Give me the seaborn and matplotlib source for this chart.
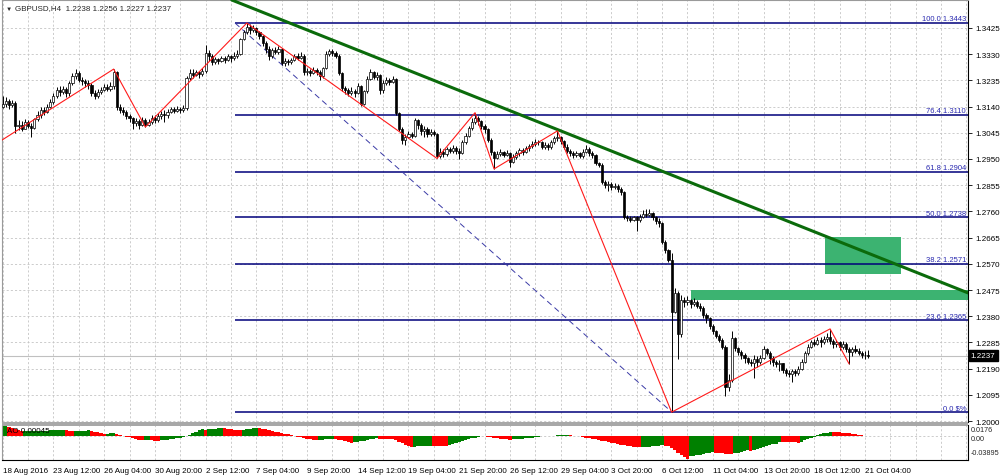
import numpy as np
import pandas as pd
import matplotlib
matplotlib.use('Agg')
import matplotlib.pyplot as plt
import matplotlib.transforms as mtransforms
from matplotlib.patches import Rectangle
import seaborn as sns

# --- data (18 Aug - 21 Oct 2016) ---
first_open = 1.3140
closes = [
    1.3150, 1.3162, 1.3145, 1.3152, 1.3068, 1.3075, 1.3060, 1.3085, 1.3070, 1.3062,
    1.3095, 1.3110, 1.3128, 1.3120, 1.3140, 1.3155, 1.3178, 1.3200, 1.3192, 1.3205,
    1.3190, 1.3225, 1.3250, 1.3262, 1.3238, 1.3232, 1.3226, 1.3218, 1.3188, 1.3178,
    1.3192, 1.3200, 1.3212, 1.3205, 1.3216, 1.3265, 1.3138, 1.3128, 1.3120, 1.3105,
    1.3098, 1.3080, 1.3088, 1.3075, 1.3092, 1.3072, 1.3085, 1.3098, 1.3090, 1.3105,
    1.3112, 1.3108, 1.3120, 1.3130, 1.3125, 1.3132, 1.3128, 1.3135, 1.3245, 1.3262,
    1.3255, 1.3265, 1.3260, 1.3268, 1.3335, 1.3322, 1.3300, 1.3312, 1.3305, 1.3318,
    1.3310, 1.3322, 1.3315, 1.3325, 1.3330, 1.3385, 1.3412, 1.3428, 1.3418, 1.3425,
    1.3410, 1.3395, 1.3370, 1.3350, 1.3322, 1.3345, 1.3338, 1.3350, 1.3298, 1.3305,
    1.3300, 1.3310, 1.3322, 1.3318, 1.3325, 1.3265, 1.3270, 1.3262, 1.3272, 1.3265,
    1.3250, 1.3280, 1.3330, 1.3342, 1.3335, 1.3325, 1.3262, 1.3208, 1.3200, 1.3190,
    1.3198, 1.3188, 1.3215, 1.3150, 1.3195, 1.3240, 1.3265, 1.3248, 1.3255, 1.3200,
    1.3225, 1.3238, 1.3230, 1.3240, 1.3115, 1.3060, 1.3018, 1.3030, 1.3040, 1.3035,
    1.3090, 1.3075, 1.3050, 1.3060, 1.3040, 1.3048, 1.3042, 1.2960, 1.2975, 1.2968,
    1.2985, 1.2978, 1.2990, 1.2980, 1.2972, 1.3010, 1.3035, 1.3062, 1.3085, 1.3100,
    1.3088, 1.3070, 1.3060, 1.3020, 1.2975, 1.2955, 1.2968, 1.2975, 1.2965, 1.2972,
    1.2940, 1.2958, 1.2970, 1.2982, 1.2975, 1.2990, 1.2998, 1.3005, 1.3012, 1.3010,
    1.2995, 1.3002, 1.2992, 1.3010, 1.3025, 1.3030, 1.3015, 1.2995, 1.2980, 1.2972,
    1.2965, 1.2970, 1.2962, 1.2975, 1.2985, 1.2972, 1.2965, 1.2935, 1.2930, 1.2868,
    1.2855, 1.2860, 1.2848, 1.2852, 1.2840, 1.2830, 1.2740, 1.2735, 1.2730, 1.2738,
    1.2728, 1.2740, 1.2752, 1.2748, 1.2755, 1.2738, 1.2725, 1.2718, 1.2650, 1.2620,
    1.2585, 1.2395, 1.2465, 1.2315, 1.2440, 1.2430, 1.2438, 1.2425, 1.2432, 1.2418,
    1.2410, 1.2385, 1.2372, 1.2345, 1.2325, 1.2310, 1.2295, 1.2270, 1.2125, 1.2150,
    1.2300, 1.2265, 1.2250, 1.2240, 1.2228, 1.2215, 1.2210, 1.2225, 1.2215, 1.2230,
    1.2260, 1.2248, 1.2230, 1.2215, 1.2205, 1.2210, 1.2185, 1.2175, 1.2170, 1.2180,
    1.2175, 1.2190, 1.2215, 1.2245, 1.2270, 1.2285, 1.2280, 1.2292, 1.2285, 1.2298,
    1.2305, 1.2290, 1.2280, 1.2285, 1.2270, 1.2278, 1.2262, 1.2250, 1.2262, 1.2255,
    1.2248, 1.2240, 1.2238, 1.2237,
]
highs = [
    1.3178, 1.3175, 1.3168, 1.3165, 1.3160, 1.3090, 1.3088, 1.3095, 1.3092, 1.3080,
    1.3100, 1.3125, 1.3140, 1.3138, 1.3150, 1.3168, 1.3190, 1.3210, 1.3215, 1.3215,
    1.3210, 1.3232, 1.3262, 1.3278, 1.3268, 1.3248, 1.3240, 1.3235, 1.3225, 1.3200,
    1.3205, 1.3212, 1.3222, 1.3222, 1.3228, 1.3276, 1.3268, 1.3148, 1.3140, 1.3128,
    1.3112, 1.3104, 1.3100, 1.3095, 1.3102, 1.3098, 1.3095, 1.3108, 1.3110, 1.3118,
    1.3125, 1.3128, 1.3132, 1.3140, 1.3138, 1.3142, 1.3140, 1.3145, 1.3252, 1.3275,
    1.3276, 1.3272, 1.3270, 1.3280, 1.3365, 1.3345, 1.3330, 1.3320, 1.3318, 1.3325,
    1.3322, 1.3330, 1.3328, 1.3338, 1.3345, 1.3390, 1.3418, 1.3443, 1.3438, 1.3435,
    1.3430, 1.3415, 1.3400, 1.3378, 1.3358, 1.3352, 1.3355, 1.3360, 1.3352, 1.3315,
    1.3312, 1.3318, 1.3330, 1.3335, 1.3338, 1.3330, 1.3280, 1.3278, 1.3282, 1.3280,
    1.3272, 1.3285, 1.3340, 1.3350, 1.3348, 1.3340, 1.3330, 1.3265, 1.3215, 1.3208,
    1.3212, 1.3205, 1.3225, 1.3220, 1.3200, 1.3250, 1.3276, 1.3270, 1.3265, 1.3258,
    1.3235, 1.3248, 1.3245, 1.3250, 1.3242, 1.3120, 1.3065, 1.3040, 1.3050, 1.3048,
    1.3098, 1.3095, 1.3080, 1.3070, 1.3065, 1.3058, 1.3055, 1.3045, 1.2990, 1.2985,
    1.2992, 1.2995, 1.3000, 1.2998, 1.2990, 1.3018, 1.3045, 1.3070, 1.3098, 1.3118,
    1.3105, 1.3092, 1.3078, 1.3062, 1.3025, 1.2980, 1.2980, 1.2985, 1.2980, 1.2982,
    1.2975, 1.2968, 1.2978, 1.2990, 1.2990, 1.2998, 1.3005, 1.3015, 1.3022, 1.3020,
    1.3015, 1.3010, 1.3008, 1.3018, 1.3035, 1.3052, 1.3035, 1.3020, 1.3005, 1.2985,
    1.2978, 1.2978, 1.2975, 1.2985, 1.3000, 1.2995, 1.2980, 1.2968, 1.2940, 1.2935,
    1.2875, 1.2870, 1.2865, 1.2862, 1.2858, 1.2848, 1.2835, 1.2748, 1.2742, 1.2745,
    1.2742, 1.2750, 1.2765, 1.2770, 1.2768, 1.2758, 1.2745, 1.2735, 1.2722, 1.2655,
    1.2625, 1.2610, 1.2482, 1.2470, 1.2458, 1.2450, 1.2455, 1.2442, 1.2445, 1.2438,
    1.2428, 1.2418, 1.2392, 1.2378, 1.2350, 1.2330, 1.2315, 1.2300, 1.2275, 1.2170,
    1.2325, 1.2305, 1.2270, 1.2258, 1.2248, 1.2232, 1.2225, 1.2240, 1.2235, 1.2240,
    1.2272, 1.2265, 1.2255, 1.2235, 1.2222, 1.2220, 1.2210, 1.2192, 1.2185, 1.2188,
    1.2190, 1.2198, 1.2225, 1.2255, 1.2280, 1.2295, 1.2298, 1.2305, 1.2305, 1.2310,
    1.2318, 1.2334, 1.2298, 1.2295, 1.2290, 1.2290, 1.2285, 1.2268, 1.2270, 1.2275,
    1.2265, 1.2255, 1.2255, 1.2256,
]
lows = [
    1.3135, 1.3140, 1.3130, 1.3138, 1.3045, 1.3055, 1.3050, 1.3058, 1.3062, 1.3030,
    1.3058, 1.3088, 1.3100, 1.3108, 1.3115, 1.3135, 1.3150, 1.3170, 1.3180, 1.3185,
    1.3175, 1.3178, 1.3220, 1.3240, 1.3230, 1.3218, 1.3212, 1.3205, 1.3180, 1.3168,
    1.3170, 1.3185, 1.3195, 1.3198, 1.3196, 1.3205, 1.3128, 1.3118, 1.3110, 1.3095,
    1.3085, 1.3060, 1.3070, 1.3060, 1.3068, 1.3066, 1.3068, 1.3078, 1.3080, 1.3085,
    1.3095, 1.3085, 1.3100, 1.3118, 1.3115, 1.3120, 1.3118, 1.3122, 1.3128, 1.3238,
    1.3245, 1.3250, 1.3245, 1.3252, 1.3262, 1.3305, 1.3290, 1.3295, 1.3295, 1.3300,
    1.3298, 1.3305, 1.3300, 1.3308, 1.3318, 1.3328, 1.3380, 1.3405, 1.3405, 1.3410,
    1.3400, 1.3385, 1.3360, 1.3335, 1.3310, 1.3318, 1.3330, 1.3332, 1.3290, 1.3288,
    1.3290, 1.3295, 1.3305, 1.3310, 1.3312, 1.3255, 1.3255, 1.3250, 1.3258, 1.3255,
    1.3235, 1.3245, 1.3275, 1.3325, 1.3322, 1.3315, 1.3255, 1.3198, 1.3186, 1.3180,
    1.3183, 1.3175, 1.3185, 1.3142, 1.3145, 1.3190, 1.3235, 1.3240, 1.3238, 1.3185,
    1.3190, 1.3220, 1.3220, 1.3225, 1.3108, 1.3052, 1.3005, 1.3000, 1.3025, 1.3025,
    1.3030, 1.3060, 1.3038, 1.3030, 1.3030, 1.3035, 1.3032, 1.2952, 1.2955, 1.2958,
    1.2962, 1.2970, 1.2972, 1.2968, 1.2950, 1.2968, 1.3005, 1.3030, 1.3055, 1.3078,
    1.3075, 1.3060, 1.3045, 1.3010, 1.2965, 1.2914, 1.2950, 1.2960, 1.2958, 1.2960,
    1.2920, 1.2935, 1.2950, 1.2962, 1.2965, 1.2970, 1.2980, 1.2990, 1.2998, 1.3000,
    1.2988, 1.2985, 1.2982, 1.2988, 1.3005, 1.3015, 1.3005, 1.2985, 1.2970, 1.2962,
    1.2955, 1.2958, 1.2952, 1.2955, 1.2970, 1.2962, 1.2955, 1.2928, 1.2920, 1.2860,
    1.2845, 1.2835, 1.2838, 1.2840, 1.2830, 1.2820, 1.2732, 1.2725, 1.2720, 1.2725,
    1.2688, 1.2720, 1.2735, 1.2738, 1.2742, 1.2728, 1.2715, 1.2705, 1.2640, 1.2610,
    1.2575, 1.2032, 1.2390, 1.2225, 1.2305, 1.2415, 1.2420, 1.2410, 1.2418, 1.2408,
    1.2398, 1.2375, 1.2355, 1.2335, 1.2315, 1.2300, 1.2285, 1.2262, 1.2092, 1.2110,
    1.2140, 1.2255, 1.2238, 1.2225, 1.2210, 1.2205, 1.2200, 1.2155, 1.2195, 1.2205,
    1.2225, 1.2238, 1.2205, 1.2200, 1.2195, 1.2180, 1.2175, 1.2165, 1.2160, 1.2142,
    1.2162, 1.2168, 1.2185, 1.2210, 1.2240, 1.2265, 1.2272, 1.2275, 1.2270, 1.2280,
    1.2288, 1.2280, 1.2265, 1.2268, 1.2258, 1.2260, 1.2252, 1.2207, 1.2235, 1.2245,
    1.2238, 1.2230, 1.2225, 1.2227,
]

# Awesome Oscillator, one value per bar
ao_values = [
    0.0172, 0.0176, 0.0165, 0.0148, 0.0130, 0.0112, 0.0090,
    0.0092, 0.0093, 0.0094, 0.0095, 0.0096, 0.0097, 0.0098, 0.0099, 0.0100, 0.0101, 0.0102, 0.0103, 0.0104,
    0.0100, 0.0095, 0.0090, 0.0092, 0.0094, 0.0096, 0.0098, 0.0100,
    0.0090, 0.0078, 0.0066, 0.0055, 0.0045, 0.0047, 0.0049, 0.0050,
    0.0040, 0.0025, 0.0010, -0.0005, -0.0020, -0.0035, -0.0048, -0.0060, -0.0070,
    -0.0068, -0.0066, -0.0070, -0.0074, -0.0076,
    -0.0072, -0.0066, -0.0058, -0.0050, -0.0042, -0.0033, -0.0024, -0.0015,
    0.0005, 0.0030, 0.0055, 0.0080, 0.0100, 0.0118, 0.0112,
    0.0120, 0.0126, 0.0131, 0.0135, 0.0138,
    0.0135, 0.0128, 0.0120, 0.0112, 0.0105, 0.0100,
    0.0108, 0.0120, 0.0132, 0.0142, 0.0150,
    0.0143, 0.0132, 0.0120, 0.0108, 0.0095, 0.0082, 0.0070, 0.0058, 0.0045, 0.0032, 0.0020,
    0.0008, -0.0005, -0.0018, -0.0030, -0.0042, -0.0053, -0.0063, -0.0072,
    -0.0065, -0.0058, -0.0050, -0.0044, -0.0040,
    -0.0048, -0.0060, -0.0072, -0.0085, -0.0098, -0.0110,
    -0.0105, -0.0095, -0.0085, -0.0075, -0.0065, -0.0055, -0.0046, -0.0038,
    -0.0041, -0.0044, -0.0046, -0.0048, -0.0052,
    -0.0070, -0.0095, -0.0120, -0.0145, -0.0165, -0.0180,
    -0.0176, -0.0172, -0.0168, -0.0165, -0.0162, -0.0160,
    -0.0163, -0.0166, -0.0170, -0.0172, -0.0174,
    -0.0158, -0.0140, -0.0122, -0.0104, -0.0087, -0.0070, -0.0054, -0.0038, -0.0022, -0.0008, 0.0010,
    0.0002, -0.0008, -0.0018, -0.0028, -0.0036, -0.0044, -0.0050, -0.0055, -0.0058,
    -0.0054, -0.0049, -0.0044, -0.0039, -0.0033, -0.0027, -0.0021, -0.0015, -0.0009, -0.0003,
    0.0002, 0.0006, 0.0010, 0.0013, 0.0016, 0.0018, 0.0020, 0.0022,
    0.0018, 0.0012, 0.0005, -0.0003, -0.0012, -0.0022, -0.0032, -0.0042, -0.0052,
    -0.0062, -0.0074, -0.0086, -0.0098, -0.0110, -0.0122, -0.0134, -0.0145, -0.0155, -0.0165,
    -0.0173, -0.0180, -0.0186, -0.0190,
    -0.0186, -0.0181, -0.0176, -0.0171, -0.0166, -0.0161, -0.0156,
    -0.0162, -0.0172, -0.0200, -0.0240, -0.0285, -0.0330, -0.0362, -0.0385,
    -0.0345, -0.0335, -0.0325, -0.0315, -0.0305, -0.0295, -0.0285, -0.0275,
    -0.0280, -0.0287, -0.0293, -0.0298, -0.0302, -0.0305,
    -0.0295, -0.0282, -0.0268, -0.0255, -0.0242, -0.0245,
    -0.0230, -0.0215, -0.0200, -0.0185, -0.0170, -0.0155, -0.0140, -0.0125, -0.0098,
    -0.0100, -0.0102, -0.0104, -0.0105, -0.0106, -0.0107,
    -0.0092, -0.0072, -0.0050, -0.0028, -0.0006,
    0.0015, 0.0035, 0.0052, 0.0065, 0.0075,
    0.0073, 0.0070, 0.0066, 0.0062, 0.0058, 0.0053,
    0.0045, 0.0036, 0.0027, 0.0018, 0.0010, 0.00045,
]

date_labels = ['18 Aug 2016', '23 Aug 12:00', '26 Aug 04:00', '30 Aug 20:00', '2 Sep 12:00',
               '7 Sep 04:00', '9 Sep 20:00', '14 Sep 12:00', '19 Sep 04:00', '21 Sep 20:00',
               '26 Sep 12:00', '29 Sep 04:00', '3 Oct 20:00', '6 Oct 12:00', '11 Oct 04:00',
               '13 Oct 20:00', '18 Oct 12:00', '21 Oct 04:00']
price_ticks = [1.2000, 1.2095, 1.2190, 1.2285, 1.2380, 1.2475, 1.2570, 1.2665,
               1.2760, 1.2855, 1.2950, 1.3045, 1.3140, 1.3235, 1.3330, 1.3425]

fib_names = ['100.0', '76.4', '61.8', '50.0', '38.2', '23.6', '0.0']
fib_prices = [1.3443, 1.3110, 1.2904, 1.2738, 1.2571, 1.2365, 1.2032]
fib_texts = ['1.3443', '1.3110', '1.2904', '1.2738', '1.2571', '1.2365', '\\$%']
fib_start_bar, fib_end_bar = 73.3, 211.1

zigzag_bars = [-1, 35, 45, 77, 137, 149, 155, 175, 211, 261, 267]
zigzag_prices = [1.3013, 1.3276, 1.3066, 1.3443, 1.2952, 1.3118, 1.2914, 1.3052, 1.2032, 1.2334, 1.2207]

trend_bars = [75, 260]
trend_prices = [1.3514, 1.2668]

zone_bars = [(259.4, 283.4), (217.1, 320.0)]
zone_prices = [(1.2533, 1.2667), (1.2437, 1.2476)]

last_price = 1.2237
ao_ticks = ['0.0176', '0.00', '-0.03895']

# --- derived series ---
n = len(closes)
bars = np.arange(n)
c = np.array(closes)
o = np.concatenate([[first_open], c[:-1]])
hi = np.maximum(np.array(highs), np.maximum(o, c))
lo = np.minimum(np.array(lows), np.minimum(o, c))
ao = np.array(ao_values)
ao_dir = np.where(np.diff(ao, prepend=ao[0] - 1) > 0, 'up', 'down')
ao_df = pd.DataFrame({'bar': bars, 'ao': ao, 'dir': ao_dir})

sns.set_style('white')
plt.rcParams['font.family'] = ['Liberation Sans', 'DejaVu Sans']

W, H = 1000, 477
fig = plt.figure(figsize=(W / 100, H / 100), dpi=100)
ax1 = fig.add_axes([2 / W, 1 - 423 / H, 966 / W, 422 / H])
ax2 = fig.add_axes([2 / W, 1 - 461 / H, 966 / W, 35 / H])

x_lim = (-0.22, 304.5)
grid_kw = dict(color='#c4c4c4', lw=0.6, ls=(0, (2.5, 2.5)), zorder=0)
txt = 5.8

# ---- price panel ----
for p in price_ticks:
    ax1.axhline(p, **grid_kw)
for b in range(0, 305, 8):
    ax1.axvline(b, **grid_kw)
    ax2.axvline(b, **grid_kw)
ax2.axhline(0, **grid_kw)

for (x0, x1), (y0, y1) in zip(zone_bars, zone_prices):
    ax1.add_patch(Rectangle((x0, y0), x1 - x0, y1 - y0, facecolor='#3cb371', lw=0, zorder=1))

ax1.hlines(fib_prices, fib_start_bar, x_lim[1], color='#00007a', lw=1.1, zorder=2)
ax1.plot([fib_start_bar, fib_end_bar], [fib_prices[0], fib_prices[-1]],
         color='#3a3aa6', lw=0.7, ls=(0, (6, 4)), zorder=2)
ax1.axline((trend_bars[0], trend_prices[0]), (trend_bars[1], trend_prices[1]),
           color='#0b6b0b', lw=2.2, zorder=3)
ax1.axhline(last_price, color='#c0c0c0', lw=0.8, zorder=1)

# candles
ax1.vlines(bars, lo, hi, color='black', lw=0.7, zorder=4)
bull = c >= o
body_h = np.maximum(np.abs(c - o), 0.00008)
ax1.bar(bars, body_h, bottom=np.minimum(o, c), width=0.68,
        color=np.where(bull, 'white', 'black'), edgecolor='black', linewidth=0.5, zorder=5)

sns.lineplot(x=zigzag_bars, y=zigzag_prices, sort=False, estimator=None,
             color='#ff1a1a', lw=0.8, ax=ax1, zorder=6)

tr = mtransforms.blended_transform_factory(ax1.transAxes, ax1.transData)
for name, p, t in zip(fib_names, fib_prices, fib_texts):
    ax1.text(0.998, p + 0.0002, f'{name} {t}', transform=tr, ha='right', va='bottom',
             fontsize=5.5, color='#2a2ab0', zorder=7)

ax1.text(1.003, last_price, f'{last_price:.4f}', transform=tr, ha='left', va='center',
         fontsize=txt, color='white', clip_on=False,
         bbox=dict(boxstyle='square,pad=0.25', fc='black', ec='black'))

ax1.set_xlim(*x_lim)
ax1.set_ylim(1.19964, 1.35265)
ax1.yaxis.tick_right()
ax1.set_yticks(price_ticks)
ax1.set_yticklabels([f'{p:.4f}' for p in price_ticks])
ax1.tick_params(axis='y', length=3, width=0.6, pad=2, labelsize=txt, colors='black')
ax1.set_xticks([])
ax1.set_xlabel('')
ax1.set_ylabel('')
for side in ['left', 'top']:
    ax1.spines[side].set_color('#9a9a9a')
ax1.spines['right'].set_color('black')
ax1.spines['right'].set_linewidth(0.8)
ax1.spines['bottom'].set_visible(False)

# ---- Awesome Oscillator panel ----
sns.barplot(data=ao_df, x='bar', y='ao', hue='dir', palette={'up': '#008000', 'down': '#ff0000'},
            native_scale=True, dodge=False, width=1.0, saturation=1, errorbar=None,
            legend=False, linewidth=0, ax=ax2, zorder=2)
ax2.set_xlim(*x_lim)
ax2.set_ylim(-0.0408, 0.0194)
ax2.set_xlabel('')
ax2.set_ylabel('')
ax2.set_yticks([])
label_bars = list(range(0, 16 * len(date_labels), 16))
ax2.set_xticks(label_bars)
ax2.set_xticklabels(date_labels, ha='left')
ax2.tick_params(axis='x', length=3, width=0.6, pad=2, labelsize=txt, colors='black')
ax2.spines['left'].set_color('#9a9a9a')
ax2.spines['top'].set_visible(False)
for side in ['right', 'bottom']:
    ax2.spines[side].set_color('black')
    ax2.spines[side].set_linewidth(0.8)

for lab, fy in zip(ao_ticks, [0.88, 0.62, 0.22]):
    ax2.text(1.003, fy, lab, transform=ax2.transAxes, ha='left', va='center', fontsize=5.2)
ax2.text(0.005, 0.83, 'AO 0.00045', transform=ax2.transAxes, ha='left', va='center',
         fontsize=txt, color='black', zorder=8)

# panel separator and title
fig.patches.append(Rectangle((2 / W, 1 - 426.5 / H), 966 / W, 3.5 / H, transform=fig.transFigure,
                             facecolor='#a8a8a8', edgecolor='none'))
fig.text(6 / W, 1 - 9 / H, '▼', fontsize=4.5, va='center', ha='left')
fig.text(15 / W, 1 - 9 / H, 'GBPUSD,H4  1.2238 1.2256 1.2227 1.2237', fontsize=txt,
         va='center', ha='left')

fig.savefig('out.png', dpi=100, facecolor='white')
